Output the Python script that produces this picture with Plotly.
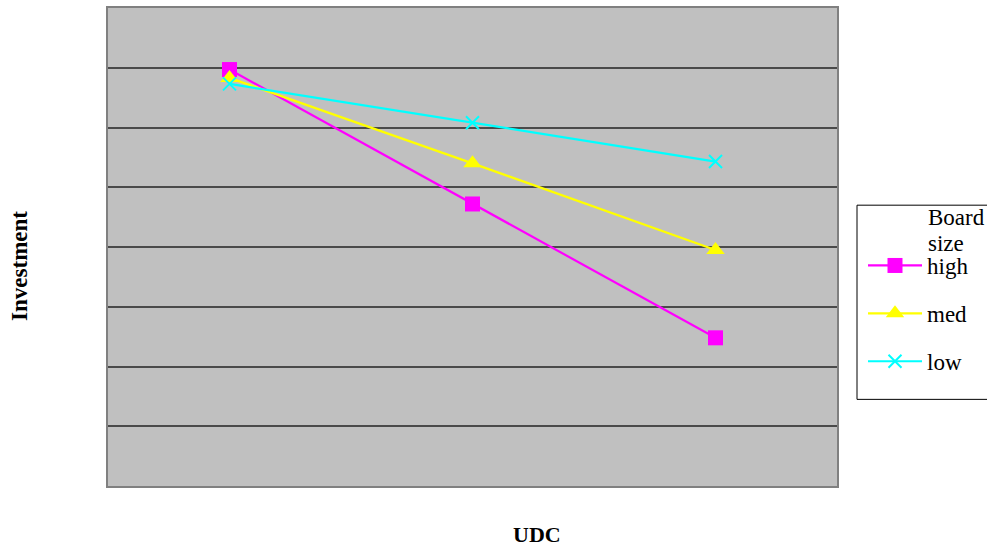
import plotly.graph_objects as go

udc_levels = ["low", "medium", "high"]
series_names = ["high", "med", "low"]
high_vals = [6.97, 4.72, 2.48]
med_vals = [6.83, 5.40, 3.95]
low_vals = [6.73, 6.08, 5.43]
series_values = [high_vals, med_vals, low_vals]
series_colors = ["#FF00FF", "#FFFF00", "#00FFFF"]
series_symbols = ["square", "triangle-up", "x-thin"]
series_sizes = [15, 16, 13]

SERIF = "Liberation Serif, Times New Roman, serif"

fig = go.Figure()
for name, vals, col, sym, sz in zip(series_names, series_values, series_colors, series_symbols, series_sizes):
    marker = dict(symbol=sym, size=sz, color=col)
    if sym == "x-thin":
        marker["line"] = dict(color=col, width=2)
    fig.add_trace(go.Scatter(
        x=udc_levels, y=vals, name=name, mode="lines+markers",
        line=dict(color=col, width=2.2), marker=marker,
        legendgroup=name,
    ))

W, H = 987, 550
L, R, T, B = 108, 150, 6, 64
pw = W - L - R
ph = H - T - B

def px(x):
    return (x - L) / pw

def py(y):
    return (H - B - y) / ph

fig.update_layout(
    width=W, height=H,
    margin=dict(l=L, r=R, t=T, b=B),
    paper_bgcolor="white",
    plot_bgcolor="#C0C0C0",
    font=dict(family=SERIF, color="black"),
    xaxis=dict(type="category", range=[-0.5, 2.5], showticklabels=False, showgrid=False,
               zeroline=False, showline=True, linecolor="#808080", linewidth=2, mirror=True, ticks=""),
    yaxis=dict(range=[0, 8], dtick=1, showticklabels=False, showgrid=True, gridcolor="#4a4a4a",
               gridwidth=1.5, zeroline=False, showline=True, linecolor="#808080", linewidth=2,
               mirror=True, ticks=""),
    showlegend=True,
    legend=dict(x=px(863), y=py(243), xanchor="left", yanchor="top",
                bgcolor="rgba(0,0,0,0)", borderwidth=0,
                font=dict(size=23, family=SERIF, color="black"),
                traceorder="grouped", tracegroupgap=15, itemwidth=54),
    shapes=[dict(type="rect", xref="paper", yref="paper",
                 x0=px(857), x1=px(1000), y0=py(399), y1=py(204),
                 line=dict(color="black", width=1), fillcolor="rgba(0,0,0,0)")],
    annotations=[
        dict(text="Board", xref="paper", yref="paper", x=px(926), y=py(216),
             xanchor="left", yanchor="middle", showarrow=False, align="left",
             font=dict(size=23, family=SERIF)),
        dict(text="size", xref="paper", yref="paper", x=px(926), y=py(242),
             xanchor="left", yanchor="middle", showarrow=False, align="left",
             font=dict(size=23, family=SERIF)),
        dict(text="<b>UDC</b>", xref="paper", yref="paper", x=px(537), y=py(535),
             xanchor="center", yanchor="middle", showarrow=False,
             font=dict(size=22, family=SERIF)),
        dict(text="<b>Investment</b>", xref="paper", yref="paper", x=px(20), y=py(265),
             xanchor="center", yanchor="middle", showarrow=False, textangle=-90,
             font=dict(size=23, family=SERIF)),
    ],
)

fig.write_html("out.html")
